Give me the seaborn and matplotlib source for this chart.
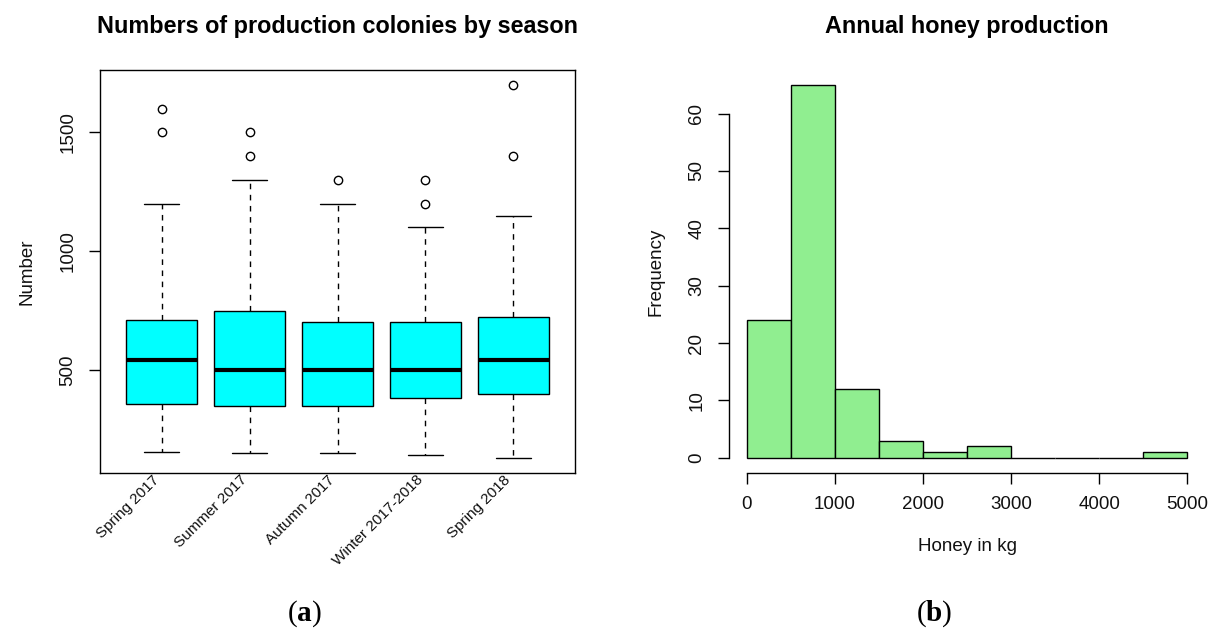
import numpy as np
import matplotlib
matplotlib.use("Agg")
import matplotlib.pyplot as plt
import seaborn as sns

# ---- data ----
seasons = ["Spring 2017", "Summer 2017", "Autumn 2017", "Winter 2017-2018", "Spring 2018"]
q1 = [357, 350, 350, 380, 400]
medians = [540, 500, 500, 500, 540]
q3 = [712, 750, 700, 700, 722]
whisker_low = [155, 150, 150, 140, 130]
whisker_high = [1200, 1300, 1200, 1100, 1150]
outliers = [[1500, 1600], [1400, 1500], [1300], [1200, 1300], [1400, 1700]]

honey_bin_edges = [0, 500, 1000, 1500, 2000, 2500, 3000, 3500, 4000, 4500, 5000]
honey_counts = [24, 65, 12, 3, 1, 2, 0, 0, 0, 1]

# ---- style ----
sns.set_style("ticks")
plt.rcParams['font.family'] = ['Liberation Sans', 'DejaVu Sans']
plt.rcParams['mathtext.fontset'] = 'custom'
plt.rcParams['mathtext.rm'] = 'Liberation Serif'
plt.rcParams['mathtext.bf'] = 'Liberation Serif:bold'
plt.rcParams['axes.edgecolor'] = 'black'
plt.rcParams['axes.labelcolor'] = '#111111'
plt.rcParams['axes.linewidth'] = 1.0
plt.rcParams['text.color'] = 'black'
plt.rcParams['xtick.color'] = 'black'
plt.rcParams['ytick.color'] = 'black'
plt.rcParams['xtick.labelcolor'] = '#111111'
plt.rcParams['ytick.labelcolor'] = '#111111'

W, H = 1212, 632
fig = plt.figure(figsize=(W / 100, H / 100), dpi=100)
ax1 = fig.add_axes([100 / W, (H - 472.7) / H, 475 / W, 402.7 / H])
ax2 = fig.add_axes([729 / W, (H - 472.7) / H, 476 / W, 402.7 / H])

# ---- (a) boxplot ----
stats = [dict(label=s, q1=a, med=m, q3=b, whislo=lo, whishi=hi, fliers=f)
         for s, a, m, b, lo, hi, f in zip(seasons, q1, medians, q3, whisker_low, whisker_high, outliers)]
ax1.bxp(stats, positions=list(range(1, len(seasons) + 1)), widths=0.8, capwidths=0.4,
        patch_artist=True,
        boxprops=dict(facecolor='#00FFFF', edgecolor='black', linewidth=1),
        medianprops=dict(color='black', linewidth=3),
        whiskerprops=dict(linestyle=(0, (4, 4)), color='black', linewidth=1),
        capprops=dict(color='black', linewidth=1),
        flierprops=dict(marker='o', markerfacecolor='none', markeredgecolor='black',
                        markersize=6, markeredgewidth=1))
ax1.set_xlim(0.3, 5.7)
ax1.set_ylim(67, 1763)
ax1.set_xticks(list(range(1, len(seasons) + 1)))
ax1.set_xticklabels(seasons, rotation=45, ha='right', fontsize=11)
ax1.tick_params(axis='x', length=0, pad=0)
ax1.set_yticks([500, 1000, 1500])
ax1.tick_params(axis='y', left=True, length=8, width=1, pad=9, labelsize=13.5,
                labelrotation=90, direction='out')
for lbl in ax1.get_yticklabels():
    lbl.set_va('center')
for sp in ax1.spines.values():
    sp.set_visible(True)
    sp.set_color('black')
ax1.set_ylabel("Number", fontsize=13.5, labelpad=17.5)
ax1.set_title("Numbers of production colonies by season", fontsize=16.8,
              fontweight='bold', pad=26.5)

# ---- (b) histogram ----
mids = [(a + b) / 2 for a, b in zip(honey_bin_edges[:-1], honey_bin_edges[1:])]
sns.histplot(x=mids, weights=honey_counts, bins=honey_bin_edges, ax=ax2,
             color='#90EE90', edgecolor='black', linewidth=1, alpha=1)
ax2.set_xlim(-200, 5200)
ax2.set_ylim(-2.6, 67.6)
ax2.set_xticks([0, 1000, 2000, 3000, 4000, 5000])
ax2.set_yticks([0, 10, 20, 30, 40, 50, 60])
ax2.tick_params(axis='both', length=8, width=1, pad=9, labelsize=13.5, direction='out')
ax2.tick_params(axis='y', labelrotation=90)
for lbl in ax2.get_yticklabels():
    lbl.set_va('center')
ax2.spines['top'].set_visible(False)
ax2.spines['right'].set_visible(False)
ax2.spines['left'].set_bounds(0, 60)
ax2.spines['bottom'].set_bounds(0, 5000)
ax2.set_xlabel("Honey in kg", fontsize=13.5, labelpad=17.5)
ax2.set_ylabel("Frequency", fontsize=13.5, labelpad=17.5)
ax2.set_title("Annual honey production", fontsize=16.8, fontweight='bold', pad=26.5)

# ---- panel letters ----
fig.text(304 / W, 1 - 614 / H, r'$(\mathbf{a})$', ha='center', va='center', fontsize=21)
fig.text(934 / W, 1 - 614 / H, r'$(\mathbf{b})$', ha='center', va='center', fontsize=21)

fig.savefig("out.png", dpi=100)
